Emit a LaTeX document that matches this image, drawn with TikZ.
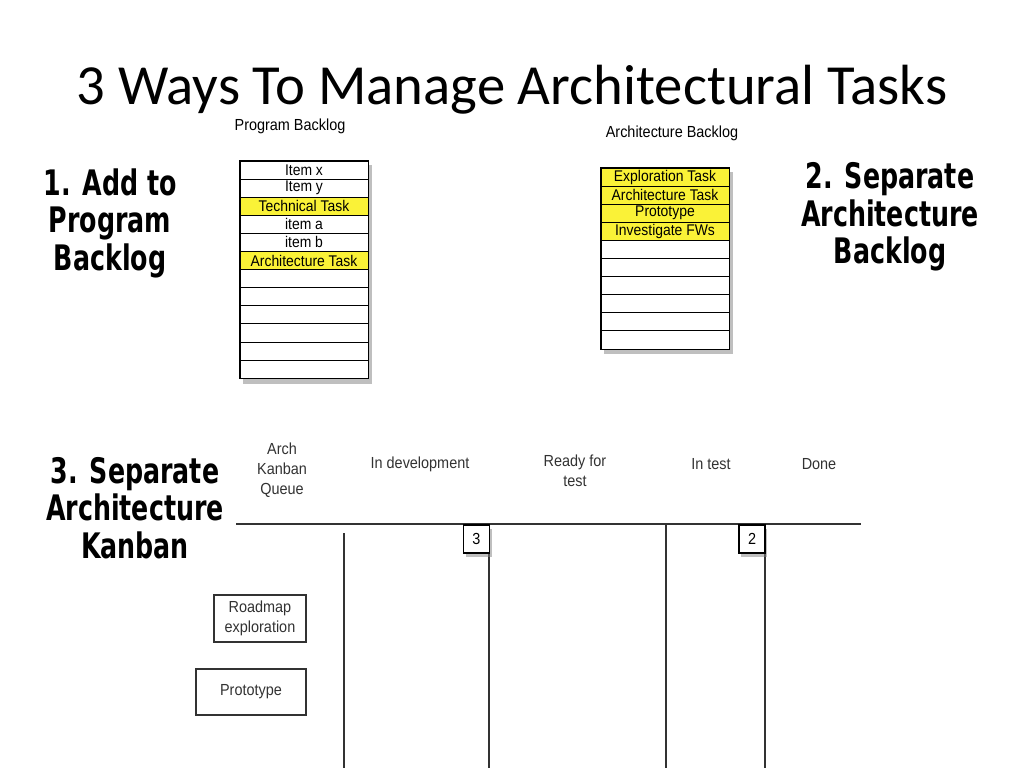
\documentclass[tikz,border=0pt]{standalone}
\usepackage{fontspec}
\setmainfont{Carlito}
\newfontfamily\narrowfont[FakeStretch=0.9]{Liberation Sans}
\newfontfamily\handfont[FakeStretch=0.72]{DejaVu Sans}
\usetikzlibrary{shadows,backgrounds}

\definecolor{taskyellow}{RGB}{250,242,55}
\definecolor{kanbangray}{RGB}{50,50,50}

\tikzset{
  rowcell/.style={draw, line width=0.6pt, minimum width=3.2cm, minimum height=0.4525cm,
    inner sep=0pt, font=\narrowfont\fontsize{11}{12}\selectfont},
  tablecap/.style={font=\narrowfont\fontsize{11.4}{12}\selectfont},
  handlabel/.style={font=\handfont\bfseries\fontsize{25}{26.7}\selectfont, align=center},
  colhead/.style={font=\narrowfont\fontsize{11.4}{14.2}\selectfont, align=center, text=kanbangray},
  kanbanline/.style={draw=kanbangray, line width=0.9pt},
  wipbox/.style={draw, line width=0.9pt, fill=white, minimum width=0.65cm, minimum height=0.7cm,
    inner sep=0pt, font=\narrowfont\fontsize{11.4}{12}\selectfont,
    drop shadow={shadow xshift=1.5pt, shadow yshift=-3pt, opacity=0.5}},
  card/.style={draw=kanbangray, line width=0.8pt, inner sep=0pt, align=center,
    font=\narrowfont\fontsize{11.4}{14.2}\selectfont, text=kanbangray},
  tableshadow/.style={fill=white, drop shadow={shadow xshift=2.5pt, shadow yshift=-3.5pt, opacity=0.5}}
}

\begin{document}
\begin{tikzpicture}[x=0.025cm, y=-0.025cm]
  \useasboundingbox (0,0) rectangle (1024,768);

  % title
  \node[anchor=base, font=\fontsize{40.3}{44}\selectfont] (title) at (512,105)
    {3 Ways To Manage Architectural Tasks};

  % 1. program backlog
  \node[handlabel] (way1) at (110,223) {1. Add to\\Program\\Backlog};
  \node[tablecap, anchor=base] (pbcap) at (290,131) {Program Backlog};
  \foreach \txt/\col [count=\i] in {Item x/white, Item y/white, Technical Task/taskyellow,
      item a/white, item b/white, Architecture Task/taskyellow,
      /white, /white, /white, /white, /white, /white}
    \node[rowcell, fill=\col] (pb\i) at (304, {161+18.1*(\i-0.5)}) {\txt};
  \begin{scope}[on background layer]
    \path[tableshadow] (pb1.north west) rectangle (pb12.south east);
  \end{scope}
  \draw[line width=1pt] (pb1.north west) rectangle (pb12.south east);

  % 2. architecture backlog
  \node[handlabel] (way2) at (890,217) {2. Separate\\Architecture\\Backlog};
  \node[tablecap, anchor=base] (abcap) at (672,138) {Architecture Backlog};
  \foreach \txt/\col [count=\i] in {Exploration Task/taskyellow, Architecture Task/taskyellow,
      Prototype/taskyellow, Investigate FWs/taskyellow,
      /white, /white, /white, /white, /white, /white}
    \node[rowcell, fill=\col] (ab\i) at (665, {168+18.1*(\i-0.5)}) {\txt};
  \begin{scope}[on background layer]
    \path[tableshadow] (ab1.north west) rectangle (ab10.south east);
  \end{scope}
  \draw[line width=1pt] (ab1.north west) rectangle (ab10.south east);

  % 3. kanban board
  \node[handlabel] (way3) at (135,508) {3. Separate\\Architecture\\Kanban};
  \node[colhead] (queue) at (282,470) {Arch\\Kanban\\Queue};
  \node[colhead] (dev) at (420,464) {In development};
  \node[colhead] (ready) at (575,471) {Ready for\\test};
  \node[colhead] (test) at (711,464) {In test};
  \node[colhead] (done) at (819,464) {Done};

  \coordinate (hleft) at (236,524);
  \coordinate (hright) at (861,524);
  \draw[kanbanline] (hleft) -- (hright);
  \foreach \x/\top [count=\k] in {344/533, 489/524, 666/524, 765/524} {
    \coordinate (ctop\k) at (\x,\top);
    \coordinate (cbot\k) at (\x,768);
    \draw[kanbanline] (ctop\k) -- (cbot\k);
  }

  \node[wipbox] (wipdev) at (476.5,539) {3};
  \node[wipbox] (wiptest) at (752,539) {2};

  \node[card, minimum width=2.3cm, minimum height=1.175cm] (roadmap) at (260,618.5)
    {Roadmap\\exploration};
  \node[card, minimum width=2.75cm, minimum height=1.15cm] (proto) at (251,692) {Prototype};
\end{tikzpicture}
\end{document}
